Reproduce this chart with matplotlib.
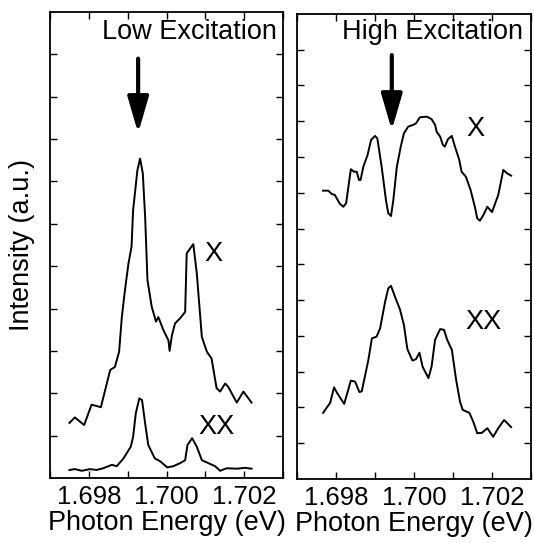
import matplotlib
matplotlib.use("Agg")
import matplotlib.pyplot as plt
from matplotlib.ticker import MultipleLocator, FixedLocator, NullFormatter

plt.rcParams['font.family'] = ['Liberation Sans', 'DejaVu Sans']

# ---- Low excitation spectra (energy in eV, intensity in a.u.) ----
low_x_energy = [1.69750, 1.69764, 1.69788, 1.69807, 1.69820, 1.69831, 1.69855, 1.69867,
                1.69878, 1.69885, 1.69893, 1.69902, 1.69910, 1.69914, 1.69925, 1.69932,
                1.69939, 1.69945, 1.69951, 1.69962, 1.69973, 1.69979, 1.69992, 1.70005,
                1.70008, 1.70014, 1.70022, 1.70035, 1.70048, 1.70052, 1.70061, 1.70069,
                1.70078, 1.70091, 1.70104, 1.70116, 1.70129, 1.70138, 1.70151, 1.70159,
                1.70181, 1.70198, 1.70219]
low_x_intensity = [1.30, 1.43, 1.25, 1.73, 1.70, 1.67, 2.55, 2.62,
                   2.98, 3.80, 4.43, 5.06, 5.46, 6.32, 7.26, 7.54,
                   7.19, 6.16, 4.67, 4.04, 3.69, 3.80, 3.49, 3.25,
                   3.00, 3.37, 3.65, 3.77, 3.92, 5.30, 5.42, 5.52,
                   4.83, 3.33, 2.98, 2.82, 2.12, 2.04, 2.23, 2.15,
                   1.78, 2.04, 1.78]

low_xx_energy = [1.69750, 1.69764, 1.69782, 1.69803, 1.69820, 1.69837, 1.69859, 1.69872,
                 1.69889, 1.69908, 1.69914, 1.69921, 1.69930, 1.69937, 1.69945, 1.69953,
                 1.69970, 1.69983, 1.70002, 1.70018, 1.70035, 1.70048, 1.70054, 1.70066,
                 1.70078, 1.70091, 1.70108, 1.70125, 1.70138, 1.70155, 1.70181, 1.70202,
                 1.70219]
low_xx_intensity = [0.19, 0.21, 0.17, 0.21, 0.19, 0.23, 0.31, 0.28,
                    0.46, 0.74, 0.97, 1.53, 1.88, 1.84, 1.29, 0.78,
                    0.46, 0.40, 0.25, 0.28, 0.35, 0.42, 0.78, 0.94,
                    0.74, 0.42, 0.35, 0.28, 0.17, 0.23, 0.22, 0.24,
                    0.22]

# ---- High excitation spectra ----
high_x_energy = [1.69767, 1.69780, 1.69789, 1.69797, 1.69810, 1.69819, 1.69826, 1.69838,
                 1.69846, 1.69853, 1.69859, 1.69863, 1.69870, 1.69881, 1.69890, 1.69900,
                 1.69906, 1.69917, 1.69928, 1.69934, 1.69941, 1.69947, 1.69956, 1.69966,
                 1.69974, 1.69985, 1.69998, 1.70005, 1.70015, 1.70033, 1.70045, 1.70054,
                 1.70058, 1.70067, 1.70074, 1.70079, 1.70087, 1.70097, 1.70105, 1.70116,
                 1.70122, 1.70133, 1.70145, 1.70156, 1.70162, 1.70169, 1.70178, 1.70188,
                 1.70200, 1.70216, 1.70229, 1.70238, 1.70249]
high_x_intensity = [8.06, 8.06, 7.97, 7.94, 7.69, 7.61, 7.71, 8.66,
                    8.59, 8.59, 8.36, 8.36, 8.73, 9.06, 9.48, 9.59,
                    9.52, 8.73, 7.80, 7.43, 7.35, 7.80, 8.73, 9.29,
                    9.66, 9.85, 9.90, 9.94, 10.11, 10.13, 10.06, 9.90,
                    9.71, 9.57, 9.34, 9.29, 9.50, 9.59, 9.29, 8.92,
                    8.59, 8.45, 8.08, 7.61, 7.29, 7.22, 7.38, 7.61,
                    7.46, 7.94, 8.64, 8.55, 8.48]

high_xx_energy = [1.69767, 1.69785, 1.69795, 1.69803, 1.69821, 1.69838, 1.69849, 1.69860,
                  1.69866, 1.69883, 1.69892, 1.69904, 1.69913, 1.69926, 1.69934, 1.69941,
                  1.69951, 1.69964, 1.69974, 1.69983, 1.69996, 1.70005, 1.70014, 1.70022,
                  1.70037, 1.70045, 1.70054, 1.70067, 1.70077, 1.70085, 1.70097, 1.70108,
                  1.70118, 1.70125, 1.70142, 1.70152, 1.70162, 1.70174, 1.70188, 1.70203,
                  1.70216, 1.70231, 1.70249]
high_xx_intensity = [1.85, 2.13, 2.56, 2.40, 2.10, 2.75, 2.72, 2.43,
                     2.45, 3.33, 3.93, 3.98, 4.21, 4.96, 5.33, 5.40,
                     5.10, 4.74, 4.31, 3.63, 3.31, 3.35, 3.53, 3.14,
                     2.82, 3.14, 3.89, 4.19, 4.17, 3.89, 3.61, 2.77,
                     2.16, 1.93, 1.85, 1.60, 1.28, 1.29, 1.42, 1.18,
                     1.42, 1.65, 1.45]

x_ticks = [1.698, 1.700, 1.702]
x_tick_labels = ["1.698", "1.700", "1.702"]

FS = 19.5
TICK_FS = 18.5

fig = plt.figure(figsize=(5.34, 5.43), dpi=100)
ax1 = fig.add_axes([0.0936, 0.1197, 0.4364, 0.8582])
ax2 = fig.add_axes([0.5562, 0.1179, 0.4382, 0.8564])


def style_axes(ax, ymax):
    ax.set_xlim(1.697, 1.703)
    ax.set_ylim(0, ymax)
    ax.set_xticks(x_ticks)
    ax.set_xticklabels(x_tick_labels, fontsize=TICK_FS)
    ax.xaxis.set_minor_locator(MultipleLocator(0.001))
    ax.yaxis.set_major_locator(FixedLocator(list(range(1, ymax))))
    ax.yaxis.set_major_formatter(NullFormatter())
    ax.tick_params(which='both', direction='in', top=True, right=True,
                   length=5, width=1.0, pad=5)
    for s in ax.spines.values():
        s.set_linewidth(1.3)
    ax.set_xlabel("Photon Energy (eV)", fontsize=FS, labelpad=1)


# Left panel: low excitation
ax1.plot(low_x_energy, low_x_intensity, color='black', lw=1.4)
ax1.plot(low_xx_energy, low_xx_intensity, color='black', lw=1.4)
style_axes(ax1, 11)
ax1.set_ylabel("Intensity (a.u.)", fontsize=FS, labelpad=6)
ax1.text(0.974, 0.957, "Low Excitation", transform=ax1.transAxes,
         ha='right', va='center', fontsize=FS)
ax1.text(1.70122, 5.28, "X", ha='center', va='center', fontsize=FS)
ax1.text(1.7013, 1.20, "XX", ha='center', va='center', fontsize=FS)
ax1.annotate('', xy=(1.69927, 8.14), xytext=(1.69927, 9.9),
             arrowprops=dict(arrowstyle='-|>,head_length=1.1,head_width=0.32',
                             mutation_scale=20, lw=3, color='black',
                             shrinkA=0, shrinkB=0))

# Right panel: high excitation
ax2.plot(high_x_energy, high_x_intensity, color='black', lw=1.4)
ax2.plot(high_xx_energy, high_xx_intensity, color='black', lw=1.4)
style_axes(ax2, 13)
ax2.text(0.966, 0.961, "High Excitation", transform=ax2.transAxes,
         ha='right', va='center', fontsize=FS)
ax2.text(1.70158, 9.78, "X", ha='center', va='center', fontsize=FS)
ax2.text(1.70177, 4.39, "XX", ha='center', va='center', fontsize=FS)
ax2.annotate('', xy=(1.69943, 9.75), xytext=(1.69943, 11.85),
             arrowprops=dict(arrowstyle='-|>,head_length=1.1,head_width=0.32',
                             mutation_scale=20, lw=3, color='black',
                             shrinkA=0, shrinkB=0))

fig.savefig("out.png", dpi=100)
